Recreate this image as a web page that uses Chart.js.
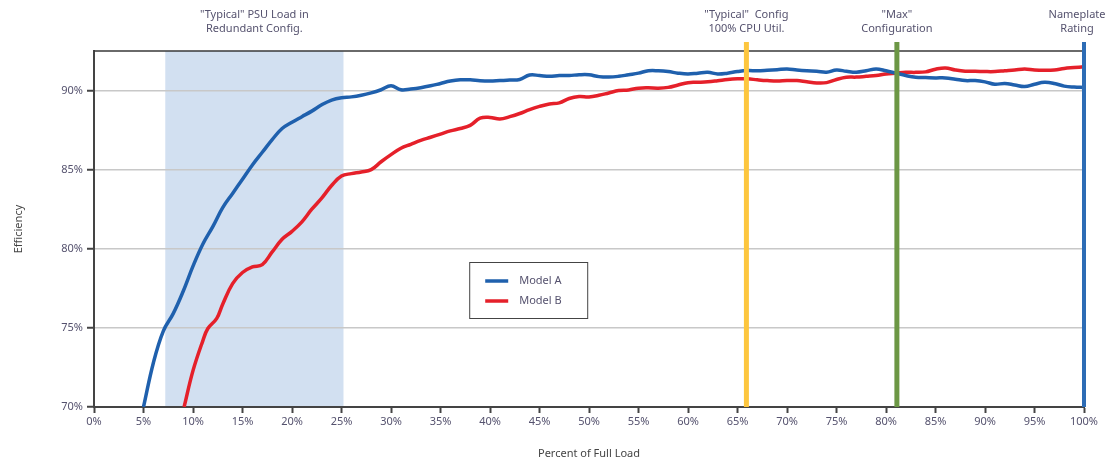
<!DOCTYPE html>
<html>
<head>
<meta charset="utf-8">
<script src="https://cdn.jsdelivr.net/npm/chart.js@4.4.1/dist/chart.umd.min.js"></script>
<style>
  body { margin: 0; background: #fff; }
  #wrap { width: 1117px; height: 463px; }
</style>
</head>
<body>
<div id="wrap"><canvas id="effChart" width="1117" height="463"></canvas></div>
<script>
// values (percent of full load -> efficiency %)
const loadA = [5, 6, 7, 8, 9, 10, 11, 12, 13, 14, 15, 16, 17, 18, 19, 20, 21, 22, 23, 24, 25, 26, 27, 28, 29, 30,
  31, 32, 33, 34, 35, 36, 37, 38, 39, 40, 41, 42, 43, 44, 45, 46, 47, 48, 49, 50, 51, 52, 53, 54, 55, 56, 57, 58, 59, 60,
  61, 62, 63, 64, 65, 66, 67, 68, 69, 70, 71, 72, 73, 74, 75, 76, 77, 78, 79, 80, 81, 82, 83, 84, 85, 86, 87, 88, 89, 90,
  91, 92, 93, 94, 95, 96, 97, 98, 99, 100];
const effA = [70.0, 72.8, 74.8, 75.9, 77.3, 78.9, 80.3, 81.4, 82.6, 83.5, 84.4, 85.3, 86.1, 86.9, 87.6, 88.0, 88.35, 88.7, 89.1, 89.4, 89.55, 89.6, 89.7, 89.85, 90.05, 90.3,
  90.05, 90.1, 90.18, 90.3, 90.45, 90.6, 90.68, 90.68, 90.62, 90.6, 90.63, 90.66, 90.7, 90.98, 90.95, 90.9, 90.95, 90.95, 91.0, 91.0, 90.88, 90.85, 90.9, 91.0, 91.1, 91.25, 91.25, 91.2, 91.1, 91.05,
  91.1, 91.15, 91.05, 91.1, 91.2, 91.26, 91.25, 91.28, 91.32, 91.37, 91.3, 91.25, 91.22, 91.16, 91.3, 91.22, 91.16, 91.25, 91.37, 91.25, 91.1, 90.95, 90.84, 90.82, 90.8, 90.8, 90.72, 90.63, 90.63, 90.55,
  90.4, 90.45, 90.35, 90.25, 90.4, 90.52, 90.45, 90.28, 90.22, 90.2];

const loadB = [9.1, 10, 11, 11.5, 12.4, 13, 14, 15, 16, 17, 18, 19, 20, 21, 22, 23, 24, 25, 26, 27, 28, 29, 30,
  31, 32, 33, 34, 35, 36, 37, 38, 39, 40, 41, 42, 43, 44, 45, 46, 47, 48, 49, 50, 51, 52, 53, 54, 55, 56, 57, 58, 59, 60,
  61, 62, 63, 64, 65, 66, 67, 68, 69, 70, 71, 72, 73, 74, 75, 76, 77, 78, 79, 80, 81, 82, 83, 84, 85, 86, 87, 88, 89, 90,
  91, 92, 93, 94, 95, 96, 97, 98, 99, 100];
const effB = [70.0, 72.3, 74.2, 74.96, 75.6, 76.5, 77.8, 78.5, 78.85, 79.0, 79.8, 80.6, 81.1, 81.7, 82.5, 83.2, 84.0, 84.6, 84.75, 84.85, 85.0, 85.5, 85.95,
  86.35, 86.6, 86.85, 87.05, 87.25, 87.45, 87.6, 87.8, 88.25, 88.3, 88.2, 88.35, 88.55, 88.8, 89.0, 89.15, 89.22, 89.5, 89.62, 89.6, 89.7, 89.85, 90.0, 90.04, 90.15, 90.17, 90.15, 90.2, 90.35, 90.5,
  90.52, 90.55, 90.62, 90.7, 90.74, 90.74, 90.68, 90.63, 90.6, 90.63, 90.63, 90.55, 90.48, 90.5, 90.7, 90.84, 90.85, 90.9, 90.95, 91.05, 91.1, 91.15, 91.15, 91.18, 91.35, 91.43, 91.3, 91.22, 91.22, 91.2,
  91.2, 91.25, 91.3, 91.37, 91.3, 91.28, 91.3, 91.4, 91.45, 91.5];

const xTicks = [0, 5, 10, 15, 20, 25, 30, 35, 40, 45, 50, 55, 60, 65, 70, 75, 80, 85, 90, 95, 100];
const yTicks = [70, 75, 80, 85, 90];

// shaded "typical PSU load" band and the three marker lines (load %)
const bandLoads = [7.2, 25.2];
const bandLabel = ['"Typical" PSU Load in', 'Redundant Config.'];
const markerLoads = [65.9, 81.1, 100];
const markerLabels = [['"Typical"  Config', '100% CPU Util.'], ['"Max"', 'Configuration'], ['Nameplate', 'Rating']];
const markerColors = ['#fdc63e', '#6c9745', '#2d6cb5'];

const seriesNames = ['Model A', 'Model B'];
const seriesColors = ['#1f60ad', '#e5202a'];

const txtColor = '#55526e';
const font = '"Noto Sans", "Liberation Sans", sans-serif';

const overlays = {
    id: 'overlays',
    beforeDraw(chart) {
        const { ctx, chartArea: a, scales: { x } } = chart;
        const x0 = x.getPixelForValue(bandLoads[0]);
        const x1 = x.getPixelForValue(bandLoads[1]);
        ctx.save();
        ctx.fillStyle = '#d2e0f1';
        ctx.fillRect(x0, a.top, x1 - x0, a.bottom - a.top);
        ctx.restore();
    },
    afterDatasetsDraw(chart) {
        const { ctx, chartArea: a, scales: { x } } = chart;
        ctx.save();
        // top / right frame
        ctx.strokeStyle = '#3a3a3a';
        ctx.lineWidth = 1.5;
        ctx.beginPath();
        ctx.moveTo(a.left, a.top);
        ctx.lineTo(a.right, a.top);
        ctx.lineTo(a.right, a.bottom);
        ctx.stroke();
        // marker lines
        markerLoads.forEach((v, i) => {
            const px = x.getPixelForValue(v);
            ctx.strokeStyle = markerColors[i];
            ctx.lineWidth = i === 2 ? 4 : 5;
            ctx.beginPath();
            ctx.moveTo(px, a.top - 9);
            ctx.lineTo(px, a.bottom);
            ctx.stroke();
        });
        ctx.restore();
    },
    afterDraw(chart) {
        const { ctx, scales: { x } } = chart;
        ctx.save();
        ctx.font = '11px ' + font;
        ctx.fillStyle = txtColor;
        ctx.textAlign = 'center';
        ctx.textBaseline = 'middle';
        const bx = x.getPixelForValue((bandLoads[0] + bandLoads[1]) / 2);
        bandLabel.forEach((t, j) => ctx.fillText(t, bx, 15 + j * 14));
        markerLoads.forEach((v, i) => {
            let px = x.getPixelForValue(v);
            if (i === 2) px -= 7;
            markerLabels[i].forEach((t, j) => ctx.fillText(t, px, 15 + j * 14));
        });

        // legend box inside the plot
        const lx = x.getPixelForValue(37.9), ly = 262;
        ctx.fillStyle = '#fff';
        ctx.fillRect(lx, ly, 118, 56);
        ctx.strokeStyle = '#444';
        ctx.lineWidth = 1;
        ctx.strokeRect(lx + 0.5, ly + 0.5, 118, 56);
        ctx.textAlign = 'left';
        seriesNames.forEach((n, i) => {
            const yy = ly + 19 + i * 20;
            ctx.strokeStyle = seriesColors[i];
            ctx.lineWidth = 3.5;
            ctx.beginPath();
            ctx.moveTo(lx + 16, yy);
            ctx.lineTo(lx + 39, yy);
            ctx.stroke();
            ctx.fillStyle = txtColor;
            ctx.fillText(n, lx + 50, yy);
        });
        ctx.restore();
    }
};

const ctx = document.getElementById('effChart').getContext('2d');
const effChart = new Chart(ctx, {
    type: 'line',
    data: {
        datasets: [
            { label: seriesNames[0], data: loadA.map((v, i) => ({ x: v, y: effA[i] })), borderColor: seriesColors[0], borderWidth: 3.5, tension: 0.4, pointRadius: 0 },
            { label: seriesNames[1], data: loadB.map((v, i) => ({ x: v, y: effB[i] })), borderColor: seriesColors[1], borderWidth: 3.5, tension: 0.4, pointRadius: 0 }
        ]
    },
    options: {
        responsive: false,
        animation: false,
        layout: { padding: { top: 51, right: 33, left: 0, bottom: 0 } },
        plugins: { legend: { display: false }, tooltip: { enabled: false } },
        scales: {
            x: {
                type: 'linear', min: 0, max: 100,
                afterBuildTicks: s => { s.ticks = xTicks.map(v => ({ value: v })); },
                afterFit: s => { s.height = 56; },
                grid: { drawOnChartArea: false, tickLength: 6, tickColor: '#444', tickWidth: 2 },
                border: { color: '#444', width: 2 },
                ticks: { callback: v => v + '%', color: txtColor, font: { size: 11, family: font }, padding: 2, maxRotation: 0 },
                title: { display: true, text: 'Percent of Full Load', color: '#444', font: { size: 11, family: font }, padding: { top: 0, bottom: 3 } }
            },
            y: {
                min: 70, max: 92.5,
                afterBuildTicks: s => { s.ticks = yTicks.map(v => ({ value: v })); },
                afterFit: s => { s.width = 94; },
                grid: { color: '#c8c8c8', lineWidth: 1.5, tickLength: 7, tickColor: '#444', tickWidth: 2 },
                border: { color: '#444', width: 2 },
                ticks: { callback: v => v + '%', color: txtColor, font: { size: 11, family: font }, padding: 4 },
                title: { display: true, text: 'Efficiency', color: '#444', font: { size: 11, family: font }, padding: { top: 12, bottom: 0 } }
            }
        }
    },
    plugins: [overlays]
});
</script>
</body>
</html>
